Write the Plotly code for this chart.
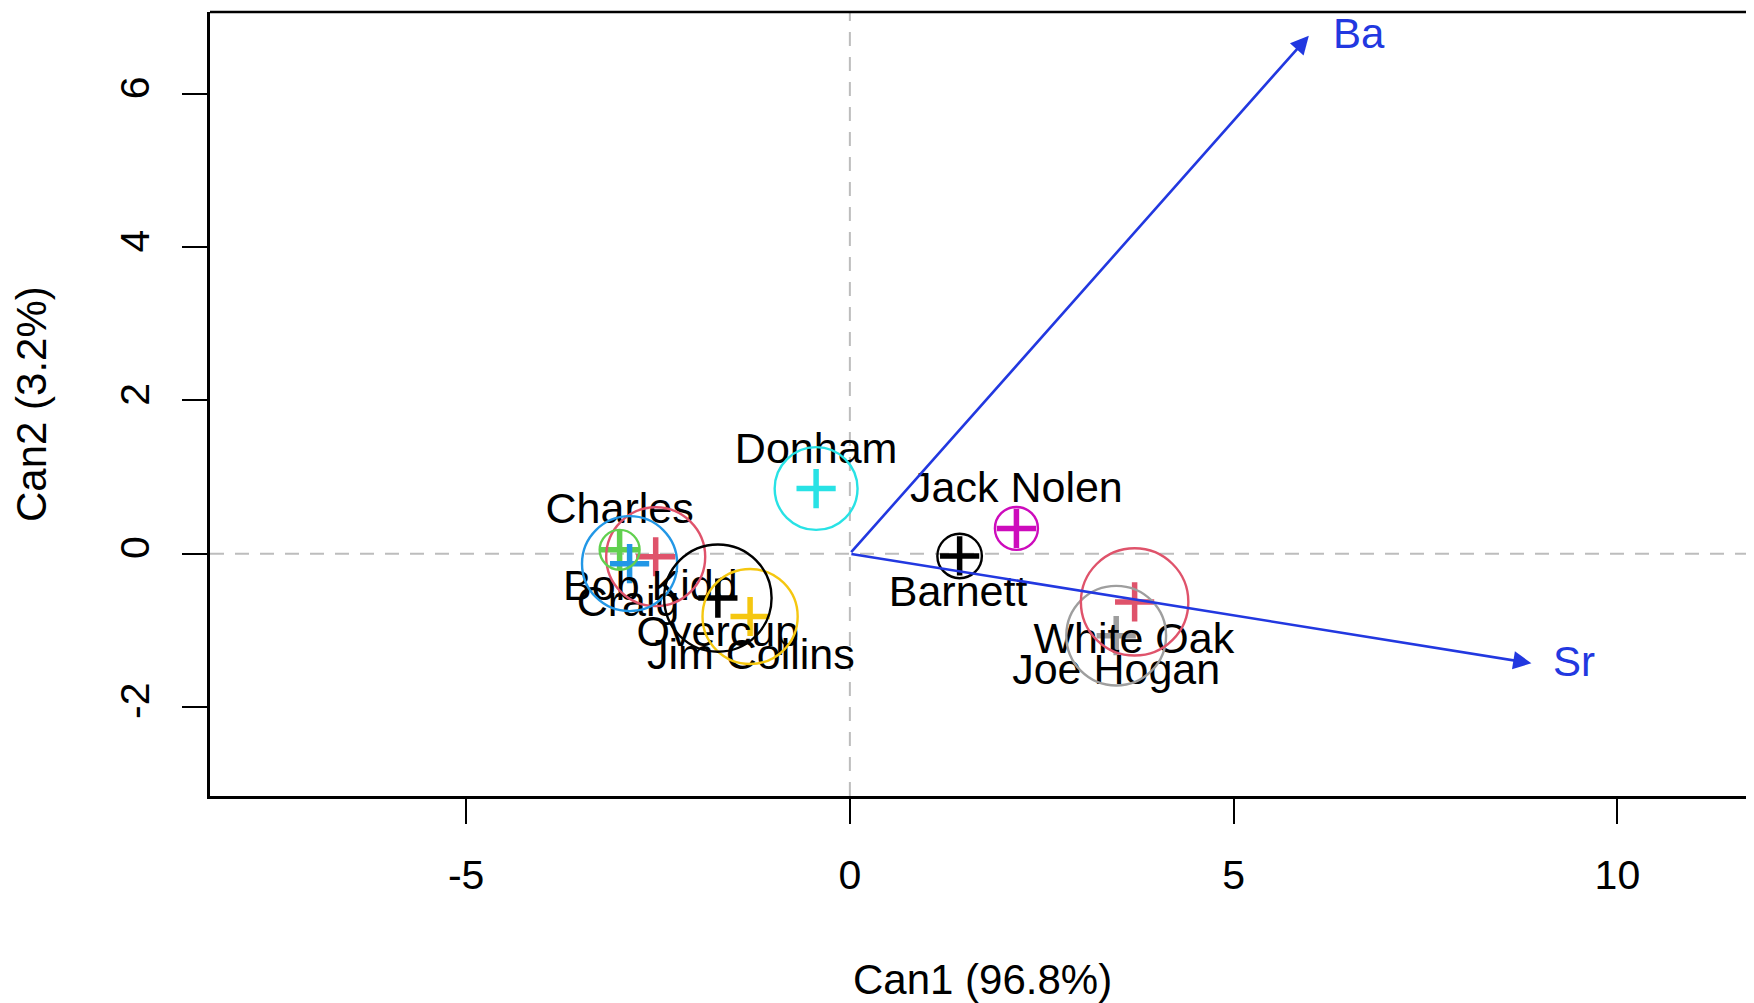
import plotly.graph_objects as go

# ---- data ----
groups = ["Barnett", "Bob Kidd", "Charles", "Craig", "Donham", "Jack Nolen",
          "Jim Collins", "Joe Hogan", "Overcup", "White Oak"]
can1_mean = [1.43, -2.53, -3.00, -2.87, -0.44, 2.17, -1.30, 3.47, -1.72, 3.71]
can2_mean = [-0.03, -0.04, 0.05, -0.13, 0.85, 0.33, -0.82, -1.07, -0.58, -0.63]
radius = [0.29, 0.645, 0.26, 0.62, 0.54, 0.28, 0.62, 0.65, 0.70, 0.70]
label_x = [1.41, -2.60, -3.00, -2.89, -0.44, 2.17, -1.29, 3.47, -1.72, 3.70]
label_y = [-0.54, -0.47, 0.54, -0.67, 1.33, 0.81, -1.37, -1.56, -1.06, -1.15]
group_colors = ["#000000", "#DF536B", "#61D04F", "#2297E6", "#28E2E5", "#CD0BBC",
                "#F5C710", "#9E9E9E", "#000000", "#DF536B"]

variables = ["Ba", "Sr"]
struct_x = [5.98, 8.88]
struct_y = [6.76, -1.43]
var_label_x = [6.63, 9.43]
var_label_y = [6.79, -1.41]

x_ticks = [-5, 0, 5, 10]
x_ticktext = ["-5", "0", "5", "10"]
y_ticks = [-2, 0, 2, 4, 6]
y_ticktext = ["-2", "0", "2", "4", "6"]
x_range = [-8.337, 11.78]
y_range = [-3.163, 7.07]

FONT = "Liberation Sans, Arial, sans-serif"
ARROW = "#2238e0"

# page body has an 8px default margin; compensate so the plot lands where the reference has it
OFF = 8
W, H = 1754 - OFF, 1003 - OFF
ml, mr, mt, mb = 210 - OFF, 0, 12 - OFF, 1003 - 796
pw, ph = W - ml - mr, H - mt - mb

fig = go.Figure()

shapes = []
shapes.append(dict(type="line", xref="x", yref="paper", x0=0, x1=0, y0=0, y1=1,
                   line=dict(color="#bdbdbd", width=2, dash="14px,11px"), layer="below"))
shapes.append(dict(type="line", xref="paper", yref="y", x0=0, x1=1, y0=0, y1=0,
                   line=dict(color="#bdbdbd", width=2, dash="14px,11px"), layer="below"))
for cx, cy, r, c in zip(can1_mean, can2_mean, radius, group_colors):
    shapes.append(dict(type="circle", xref="x", yref="y",
                       x0=cx - r, x1=cx + r, y0=cy - r, y1=cy + r,
                       line=dict(color=c, width=2.4)))
shapes.append(dict(type="line", xref="paper", yref="paper", x0=0, x1=1, y0=1, y1=1,
                   line=dict(color="black", width=2.5)))

fig.add_trace(go.Scatter(
    x=can1_mean, y=can2_mean, mode="markers",
    marker=dict(symbol="cross-thin", size=28,
                line=dict(width=5.5, color=group_colors)),
    hoverinfo="text", text=groups, showlegend=False))

fig.add_trace(go.Scatter(
    x=label_x, y=label_y, mode="text", text=groups,
    textfont=dict(family=FONT, size=43, color="black"),
    textposition="middle center", showlegend=False, hoverinfo="skip"))

annotations = []
for v, sx, sy, lx, ly in zip(variables, struct_x, struct_y, var_label_x, var_label_y):
    annotations.append(dict(x=sx, y=sy, ax=0, ay=0, xref="x", yref="y",
                            axref="x", ayref="y", text="", showarrow=True,
                            arrowhead=2, arrowsize=1.4, arrowwidth=2.6,
                            arrowcolor=ARROW, standoff=0, startstandoff=0))
    annotations.append(dict(x=lx, y=ly, xref="x", yref="y", text=v, showarrow=False,
                            font=dict(family=FONT, size=42, color=ARROW),
                            xanchor="center", yanchor="middle"))

# axis titles (pixel positions in the window converted to paper coords)
annotations.append(dict(x=0.5, y=(H - mb - (979 - OFF)) / ph, xref="paper", yref="paper",
                        text="Can1 (96.8%)", showarrow=False,
                        font=dict(family=FONT, size=42, color="black"),
                        xanchor="center", yanchor="middle"))
annotations.append(dict(x=((31 - OFF) - ml) / pw, y=0.5, xref="paper", yref="paper",
                        text="Can2 (3.2%)", showarrow=False,
                        font=dict(family=FONT, size=42, color="black"),
                        textangle=-90, xanchor="center", yanchor="middle"))

fig.update_layout(
    width=W, height=H,
    margin=dict(l=ml, r=mr, t=mt, b=mb, pad=0),
    plot_bgcolor="white", paper_bgcolor="white",
    shapes=shapes, annotations=annotations,
    xaxis=dict(range=x_range, tickvals=x_ticks, ticktext=x_ticktext, ticks="outside",
               ticklen=25, tickwidth=1.5, tickcolor="black", showline=True,
               linecolor="black", linewidth=2.5, showgrid=False, zeroline=False,
               mirror=False, tickfont=dict(family=FONT, size=41, color="black"),
               ticklabelstandoff=16),
    yaxis=dict(range=y_range, tickvals=y_ticks, ticktext=y_ticktext, ticks="outside",
               ticklen=25, tickwidth=1.5, tickcolor="black", showline=True,
               linecolor="black", linewidth=2.5, showgrid=False, zeroline=False,
               mirror=False, tickangle=-90,
               tickfont=dict(family=FONT, size=41, color="black"),
               ticklabelstandoff=17),
    showlegend=False,
)

fig.write_html("out.html")
